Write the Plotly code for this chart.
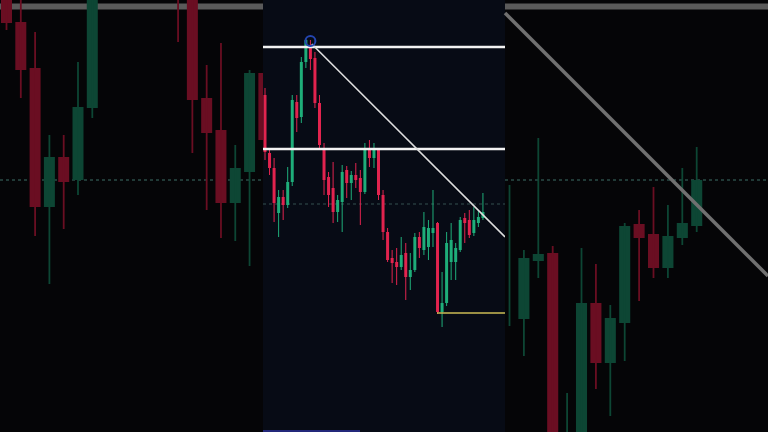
import plotly.graph_objects as go

# ---------------- DATA (prices) ----------------
# Center panel candles (index 0..48)
c_open  = [405, 347, 332, 287, 303, 295, 318, 398, 383, 438, 454, 442, 397, 352, 323, 312, 288, 298, 330, 317,
           325, 322, 308, 350, 342, 350, 305, 268, 242, 238, 233, 247, 223, 230, 263, 250, 253, 267, 277, 188,
           197, 238, 238, 250, 282, 280, 267, 277, 282]
c_high  = [412, 352, 342, 310, 310, 333, 405, 405, 443, 461, 460, 448, 405, 357, 328, 338, 305, 335, 334, 329,
           337, 330, 357, 360, 357, 352, 310, 272, 250, 252, 263, 257, 247, 267, 268, 288, 280, 310, 278, 228,
           268, 277, 257, 283, 287, 290, 293, 290, 307]
c_low   = [340, 325, 278, 263, 280, 292, 314, 368, 377, 432, 430, 392, 350, 305, 293, 277, 278, 268, 302, 300,
           312, 275, 306, 333, 332, 300, 260, 238, 217, 215, 230, 200, 210, 228, 242, 245, 240, 253, 186, 173,
           194, 220, 220, 248, 257, 262, 264, 273, 280]
c_close = [348, 332, 297, 303, 295, 318, 400, 382, 438, 460, 441, 397, 355, 320, 305, 288, 300, 328, 317, 325,
           320, 308, 350, 342, 350, 305, 268, 240, 237, 233, 245, 223, 230, 263, 252, 273, 272, 272, 188, 197,
           257, 260, 252, 280, 277, 265, 280, 283, 288]

# Center drawings
resistance_levels = [453, 351]
dotted_level_center = 296
trend_start = (10.3, 456)
trend_end = (52.86, 263)
support_start = 37.9
support_level = 187
peak_marker = (10, 459)

# Left background candles (None = empty slot)
l_open  = [505, 478, 432, 293, 343, 320, 392, None, None, None, None, None, 510, 505, 402, 370, 297, 328, 427]
l_high  = [510, 510, 468, 365, 365, 438, 510, None, None, None, None, None, 515, 510, 435, 457, 355, 430, 435]
l_low   = [470, 402, 264, 216, 271, 305, 382, None, None, None, None, None, 458, 347, 290, 262, 259, 234, 350]
l_close = [477, 430, 293, 343, 318, 393, 505, None, None, None, None, None, 502, 400, 367, 297, 332, 427, 360]

# Right background candles
r_open  = [250, 181, 239, 247, 40, 60, 197, 137, 177, 276, 266, 232, 262, 274]
r_high  = [315, 250, 362, 254, 107, 252, 236, 195, 277, 290, 313, 295, 332, 353]
r_low   = [174, 144, 222, 50, 30, 50, 111, 84, 139, 199, 222, 222, 255, 268]
r_close = [250, 242, 246, 60, 60, 197, 137, 182, 274, 262, 232, 264, 277, 320]

bg_top_level = 493.5
bg_dotted_level = 320
bg_diag_start = 487
bg_diag_end = 224

# ---------------- FIGURE ----------------
fig = go.Figure()


def add_candles(o, h, l, c, xa, ya, up, down, body_w, wick_w):
    wick = {up: ([], []), down: ([], [])}
    bx, by, bb, bc = [], [], [], []
    for i, (oo, hh, ll, cc) in enumerate(zip(o, h, l, c)):
        if oo is None:
            continue
        col = up if cc >= oo else down
        wick[col][0].extend([i, i, None])
        wick[col][1].extend([ll, hh, None])
        if cc == oo:
            continue
        bx.append(i)
        bb.append(min(oo, cc))
        by.append(max(abs(cc - oo), 1.2))
        bc.append(col)
    for col, (wx, wy) in wick.items():
        fig.add_trace(go.Scatter(x=wx, y=wy, mode="lines", line=dict(color=col, width=wick_w),
                                 xaxis=xa, yaxis=ya, hoverinfo="skip"))
    fig.add_trace(go.Bar(x=bx, y=by, base=bb, width=body_w,
                         marker=dict(color=bc, line=dict(width=0)),
                         xaxis=xa, yaxis=ya, hoverinfo="skip"))


BG_RED, BG_GREEN = "#6a0e22", "#0d4634"
C_RED, C_GREEN = "#e2244f", "#1fae7a"

add_candles(l_open, l_high, l_low, l_close, "x", "y", BG_GREEN, BG_RED, 0.77, 1.8)
add_candles(c_open, c_high, c_low, c_close, "x2", "y2", C_GREEN, C_RED, 0.66, 1.0)
add_candles(r_open, r_high, r_low, r_close, "x3", "y3", BG_GREEN, BG_RED, 0.77, 1.8)

shapes = []
# center panel background
shapes.append(dict(type="rect", xref="x2 domain", yref="y2 domain", x0=0, x1=1, y0=0, y1=1,
                   fillcolor="#070b15", line=dict(width=0), layer="below"))
# background top gray lines
for xr, yr in (("x domain", "y"), ("x3 domain", "y3")):
    shapes.append(dict(type="line", xref=xr, yref=yr, x0=0, x1=1, y0=bg_top_level, y1=bg_top_level,
                       line=dict(color="#5a5a5a", width=6), layer="below"))
    shapes.append(dict(type="line", xref=xr, yref=yr, x0=0, x1=1, y0=bg_dotted_level, y1=bg_dotted_level,
                       line=dict(color="rgba(70,125,115,0.6)", width=1.3, dash="dot"), layer="below"))
# right background diagonal
shapes.append(dict(type="line", xref="x3 domain", yref="y3", x0=0, x1=1, y0=bg_diag_start, y1=bg_diag_end,
                   line=dict(color="#707070", width=3.5), layer="above"))
# center dotted line
shapes.append(dict(type="line", xref="x2 domain", yref="y2", x0=0, x1=1,
                   y0=dotted_level_center, y1=dotted_level_center,
                   line=dict(color="rgba(90,140,130,0.55)", width=1, dash="dot"), layer="below"))
# white levels
for lv in resistance_levels:
    shapes.append(dict(type="line", xref="x2 domain", yref="y2", x0=0, x1=1, y0=lv, y1=lv,
                       line=dict(color="#f2f2f2", width=2.5), layer="above"))
# trendline
shapes.append(dict(type="line", xref="x2", yref="y2", x0=trend_start[0], y0=trend_start[1],
                   x1=trend_end[0], y1=trend_end[1], line=dict(color="#dedede", width=1.6), layer="above"))
# yellow support
shapes.append(dict(type="line", xref="x2", yref="y2", x0=support_start, x1=trend_end[0],
                   y0=support_level, y1=support_level, line=dict(color="#cdbd55", width=1.6), layer="above"))
# peak circle
shapes.append(dict(type="circle", xref="x2", yref="y2", xsizemode="pixel", ysizemode="pixel",
                   xanchor=peak_marker[0], yanchor=peak_marker[1], x0=-5, x1=5, y0=-5, y1=5,
                   line=dict(color="#2445b0", width=2), fillcolor="rgba(0,0,0,0)", layer="above"))
# progress bar
shapes.append(dict(type="rect", xref="paper", yref="paper", x0=263 / 768, x1=360 / 768, y0=0, y1=2 / 432,
                   fillcolor="#23287a", line=dict(width=0), layer="above"))

ax = dict(visible=False, fixedrange=True, showgrid=False, zeroline=False)
fig.update_layout(
    width=768, height=432,
    margin=dict(l=0, r=0, t=0, b=0),
    paper_bgcolor="#050507", plot_bgcolor="#050507",
    showlegend=False, barmode="overlay", hovermode=False,
    xaxis=dict(ax, domain=[0, 263 / 768], range=[-0.455, 17.94], anchor="y"),
    yaxis=dict(ax, domain=[0, 1], range=[68, 500], anchor="x"),
    xaxis2=dict(ax, domain=[263 / 768, 505 / 768], range=[-0.44, 52.86], anchor="y2"),
    yaxis2=dict(ax, domain=[0, 1], range=[68, 500], anchor="x2"),
    xaxis3=dict(ax, domain=[505 / 768, 1], range=[-0.3125, 17.95], anchor="y3"),
    yaxis3=dict(ax, domain=[0, 1], range=[68, 500], anchor="x3"),
    shapes=shapes,
)

fig.write_html("out.html", config={"displayModeBar": False, "staticPlot": True},
               post_script="document.body.style.margin='0';")
